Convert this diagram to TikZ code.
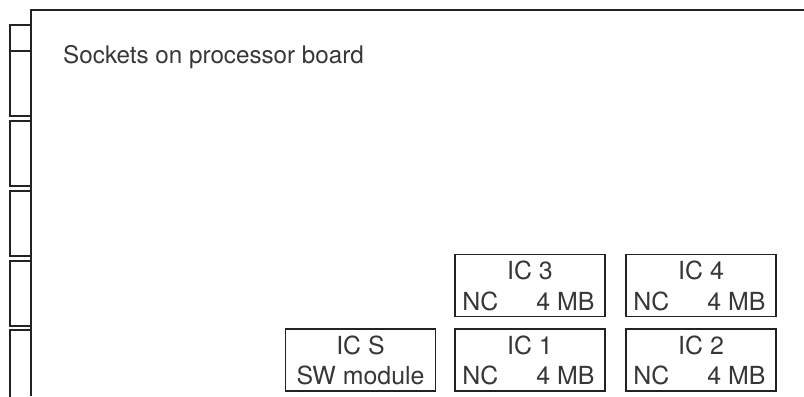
\documentclass[tikz,border=0pt]{standalone}
\usepackage{fontspec}
\setmainfont{TeX Gyre Heros}
\definecolor{ink}{RGB}{35,35,35}
\definecolor{txt}{RGB}{55,55,55}
\tikzset{
  ln/.style={draw=ink, line width=1.5bp},
  icbox/.style={ln, rectangle, inner sep=0pt, minimum width=150bp, minimum height=62bp},
  lbl/.style={inner sep=0pt, text=txt, font=\fontsize{25}{29}\selectfont},
  ttl/.style={lbl, font=\fontsize{24.3}{29}\selectfont}
}
\begin{document}
\begin{tikzpicture}[x=1bp,y=-1bp]
\useasboundingbox (0,0) rectangle (804,396);
% board outline
\coordinate (bl) at (31,396);
\coordinate (tl) at (31,10);
\coordinate (tr) at (804,10);
\draw[ln] (bl) -- (tl) -- (tr);
% tabs on the left edge
\draw[ln] (31,25) -- (10,25) -- (10,116) -- (31,116);
\draw[ln] (10,51) -- (31,51);
\draw[ln] (31,121) -- (10,121) -- (10,186) -- (31,186);
\draw[ln] (31,191) -- (10,191) -- (10,256) -- (31,256);
\draw[ln] (31,261) -- (10,261) -- (10,326) -- (31,326);
\draw[ln] (31,330) -- (10,330) -- (10,397);
% title
\node[ttl, anchor=base west] (title) at (63,63) {Sockets on processor board};
% sockets
\node[icbox] (ics) at (360.5,360) {};
\node[icbox] (ic1) at (530,360) {};
\node[icbox] (ic2) at (701,360) {};
\node[icbox] (ic3) at (530,285.5) {};
\node[icbox] (ic4) at (701,285.5) {};
% labels
\node[lbl, anchor=base] (icsa) at ([yshift=-26bp]ics.north) {IC S};
\node[lbl, anchor=base] (icsb) at ([yshift=7bp]ics.south) {SW module};
\foreach \b/\n in {ic1/1, ic2/2, ic3/3, ic4/4}{
  \node[lbl, anchor=base] (\b a) at ([yshift=-26bp]\b.north) {IC \n};
  \node[lbl, anchor=base west] (\b b) at ([xshift=8bp,yshift=7bp]\b.south west) {NC};
  \node[lbl, anchor=base east] (\b c) at ([xshift=-11bp,yshift=7bp]\b.south east) {4 MB};
}
\end{tikzpicture}
\end{document}
